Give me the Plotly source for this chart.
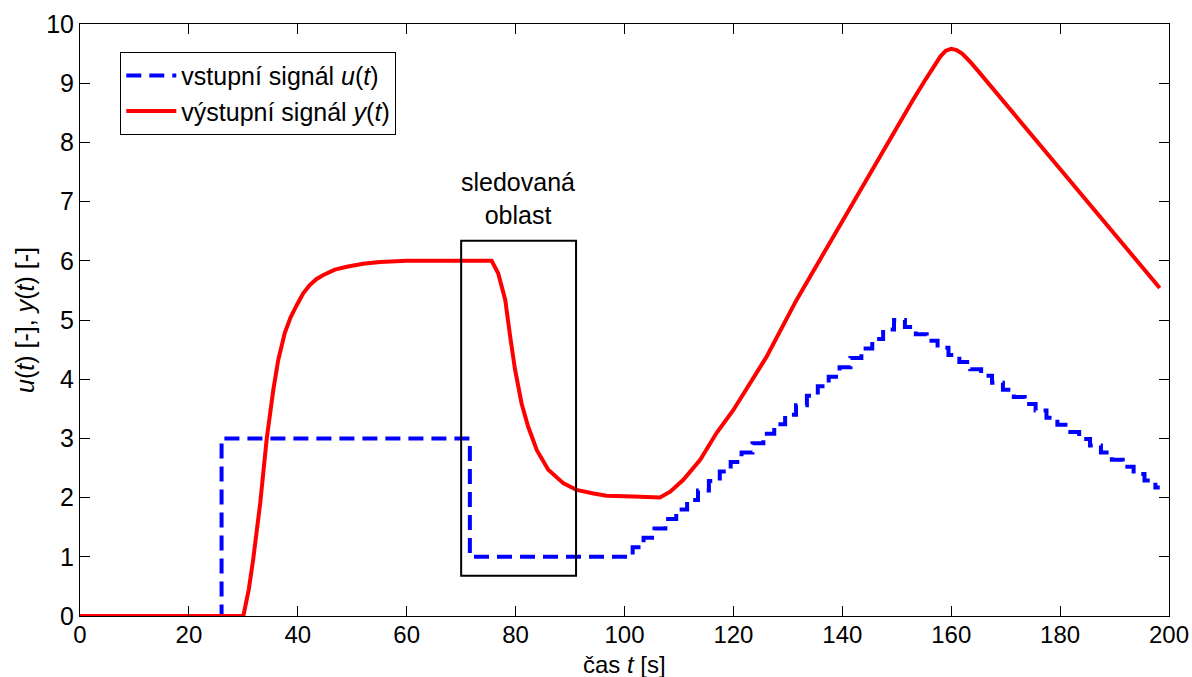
import plotly.graph_objects as go

# input signal u(t) (stairs)
u_t = [0, 26, 71.6, 101.5, 103.5, 105.5, 107.5, 109.5, 111.5, 113.5, 115.5, 117.5, 119.5,
       121.5, 123.5, 125.5, 127.5, 129.5, 131.5, 133.5, 135.5, 137.5, 139.5, 141.5, 143.5,
       145.5, 147.5, 149.5, 151.5, 153.5, 155.5, 157.5, 159.5, 161.5, 163.5, 165.5, 167.5,
       169.5, 171.5, 173.5, 175.5, 177.5, 179.5, 181.5, 183.5, 185.5, 187.5, 189.5, 191.5,
       193.5, 195.5, 197.5, 198.3]
u_v = [0, 3, 1, 1.16, 1.32, 1.48, 1.64, 1.80, 1.96, 2.12, 2.28, 2.44, 2.60,
       2.76, 2.92, 3.08, 3.24, 3.40, 3.56, 3.72, 3.88, 4.04, 4.20, 4.36, 4.52,
       4.68, 4.84, 5.00, 4.88, 4.76, 4.65, 4.53, 4.41, 4.29, 4.17, 4.06, 3.94,
       3.82, 3.70, 3.58, 3.47, 3.35, 3.23, 3.11, 2.99, 2.88, 2.76, 2.64, 2.52,
       2.40, 2.29, 2.17, 2.17]

# output signal y(t)
y_t = [0, 30.0, 31.0, 31.8, 33.1, 34.3, 35.5, 36.4, 37.6, 38.7, 39.8, 41.0, 42.2, 43.4,
       44.7, 46.8, 49.0, 52.0, 55.1, 60.0, 64.3,
       75.6, 76.8, 78.1, 79.0, 79.9, 81.1, 82.3, 83.9, 86.0, 88.8, 91.2, 94.3, 96.7,
       101.6, 106.5, 108.4, 110.8, 113.9, 116.9, 120.0, 126.1, 131.6, 150.0, 153.0,
       155.0, 156.5, 158.0, 159.0, 160.0, 161.0, 162.0, 163.5, 165.0, 180.0, 198.3]
y_v = [0, 0, 0.45, 0.95, 1.91, 3.0, 3.82, 4.32, 4.78, 5.05, 5.25, 5.45, 5.59, 5.69,
       5.76, 5.85, 5.90, 5.95, 5.98, 6.0, 6.0,
       6.0, 5.79, 5.34, 4.72, 4.16, 3.59, 3.20, 2.80, 2.47, 2.24, 2.13, 2.07, 2.03,
       2.02, 2.00, 2.10, 2.30, 2.64, 3.09, 3.48, 4.38, 5.34, 8.27, 8.72,
       9.02, 9.25, 9.45, 9.55, 9.58, 9.56, 9.50, 9.36, 9.20, 7.55, 5.54]

x_ticks = [0, 20, 40, 60, 80, 100, 120, 140, 160, 180, 200]
y_ticks = [0, 1, 2, 3, 4, 5, 6, 7, 8, 9, 10]

# observed region
reg_x = [70, 91.1]
reg_y = [0.68, 6.34]

FONT = "Liberation Sans, Arial, sans-serif"

fig = go.Figure()
fig.add_trace(go.Scatter(
    x=u_t, y=u_v, mode="lines", line_shape="hv",
    line=dict(color="#0000FF", width=4, dash="15px,8px"),
    name="vstupní signál <i>u</i>(<i>t</i>)"))
fig.add_trace(go.Scatter(
    x=y_t, y=y_v, mode="lines",
    line=dict(color="#FF0000", width=4),
    name="výstupní signál <i>y</i>(<i>t</i>)"))

fig.add_shape(type="rect", x0=reg_x[0], x1=reg_x[1], y0=reg_y[0], y1=reg_y[1],
              xref="x", yref="y", line=dict(color="black", width=2))
fig.add_annotation(x=80.4, y=7.06, xref="x", yref="y", text="sledovaná<br>oblast",
                   showarrow=False, font=dict(size=25, color="black", family=FONT))
# x-axis title as annotation placed below the tick labels
fig.add_annotation(x=0.5, y=0, xref="paper", yref="paper", yanchor="top",
                   yshift=-33, text="čas <i>t</i> [s]", showarrow=False,
                   font=dict(size=24, color="black", family=FONT))

axis_common = dict(showline=True, linecolor="black", linewidth=1, mirror="ticks",
                   ticks="inside", ticklen=10, tickcolor="black", showgrid=False,
                   zeroline=False, automargin=False)

fig.update_layout(
    width=1192, height=677,
    margin=dict(l=80, r=23, t=24, b=61),
    paper_bgcolor="white", plot_bgcolor="white",
    font=dict(family=FONT, size=25, color="black"),
    showlegend=True,
    legend=dict(x=0.037, y=0.953, xanchor="left", yanchor="top",
                bordercolor="black", borderwidth=1, bgcolor="white",
                font=dict(size=25, family=FONT, color="black"),
                tracegroupgap=0, itemwidth=50),
    xaxis=dict(range=[0, 200], tickvals=x_ticks, ticktext=[str(v) for v in x_ticks],
               tickfont=dict(size=24, color="black", family=FONT), ticklabelstandoff=-3,
               **axis_common),
    yaxis=dict(range=[0, 10], tickvals=y_ticks, ticktext=[str(v) for v in y_ticks],
               tickfont=dict(size=25, color="black", family=FONT),
               title=dict(text="<i>u</i>(<i>t</i>) [-], <i>y</i>(<i>t</i>) [-]",
                          font=dict(size=25, family=FONT), standoff=4),
               **axis_common),
)

fig.write_html("out.html")
